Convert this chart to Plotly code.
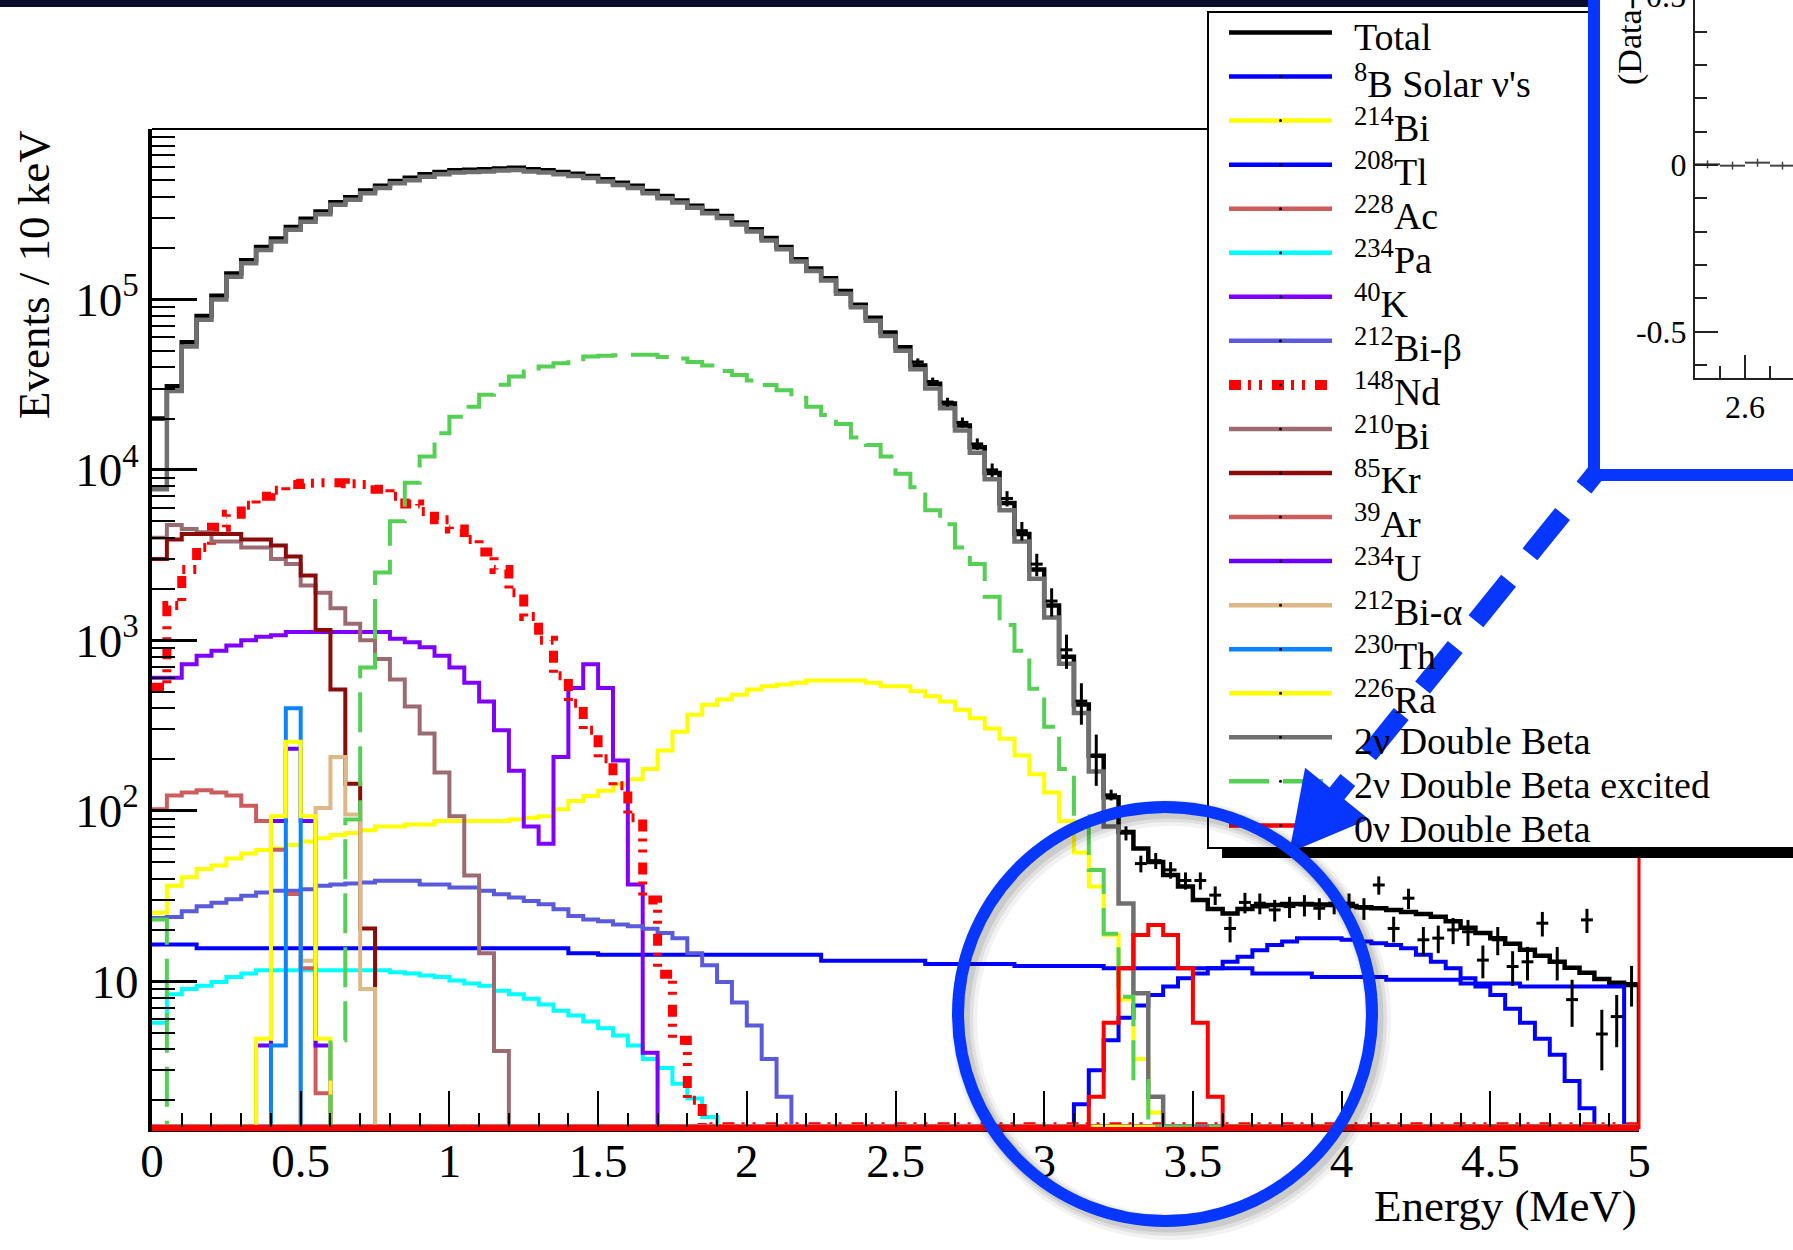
import math
import plotly.graph_objects as go

W, H = 1793, 1250
FONT = "Liberation Serif, Times New Roman, serif"
MARK_BLUE = "#0636ff"

BIN_WIDTH = 0.05      # MeV per histogram bin
N_BINS = 100          # 0 - 5 MeV
Y_FLOOR = 1.4         # empty bins are drawn on the frame bottom (ROOT log style)

# ---------------- histogram contents ----------------
total_start = 0
total_vals = [
    2.0e4, 3.1e4, 5.6e4, 8.0e4, 1.05e5, 1.42e5, 1.7e5, 2.03e5, 2.28e5, 2.66e5,
    2.97e5, 3.28e5, 3.72e5, 3.98e5, 4.35e5, 4.65e5, 4.95e5, 5.17e5, 5.42e5, 5.6e5,
    5.72e5, 5.77e5, 5.8e5, 5.87e5, 5.92e5, 5.8e5, 5.72e5, 5.6e5, 5.46e5, 5.3e5,
    5.07e5, 4.84e5, 4.64e5, 4.33e5, 4.05e5, 3.81e5, 3.55e5, 3.3e5, 3.09e5, 2.83e5,
    2.58e5, 2.29e5, 2.03e5, 1.72e5, 1.52e5, 1.33e5, 1.12e5, 9.3e4, 7.8e4, 6.4e4,
    5.25e4, 4.1e4, 3.2e4, 2.45e4, 1.82e4, 1.36e4, 9.6e3, 6.4e3, 4.2e3, 2.6e3,
    1.6e3, 800, 420, 210, 120, 75, 60, 50, 42, 36,
    30, 26.5, 25, 26.5, 27.5, 28, 28.4, 28.4, 28.2, 28,
    27.6, 27.2, 26.8, 26.2, 25.5, 24.8, 23.9, 22.5, 20.6, 19.2,
    17.9, 16.6, 15.3, 14.1, 13.0, 12.0, 11.2, 10.3, 9.8, 9.5,
]
b8_start = 0
b8_vals = [
    16.4, 16.4, 16.4, 15.6, 15.6, 15.6, 15.6, 15.6, 15.6, 15.6,
    15.6, 15.6, 15.6, 15.6, 15.6, 15.6, 15.6, 15.6, 15.6, 15.6,
    15.6, 15.6, 15.6, 15.6, 15.6, 15.6, 15.6, 15.6, 14.6, 14.6,
    14.3, 14.3, 14.3, 14.3, 14.3, 14.3, 14.3, 14.3, 14.3, 14.3,
    14.3, 14.3, 14.3, 14.3, 14.3, 13.2, 13.2, 13.2, 13.2, 13.2,
    13.2, 13.2, 12.6, 12.6, 12.6, 12.6, 12.6, 12.6, 12.3, 12.3,
    12.3, 12.3, 12.3, 12.3, 11.9, 11.9, 11.9, 11.9, 11.9, 11.9,
    11.9, 11.9, 11.9, 11.9, 11.1, 11.1, 11.1, 11.1, 10.6, 10.6,
    10.6, 10.6, 10.6, 10.2, 10.2, 10.2, 10.2, 10.2, 9.7, 9.7,
    9.7, 9.7, 9.3, 9.3, 9.3, 9.3, 9.3, 9.3, 9.3, 0,
]
bi214_start = 0
bi214_vals = [
    25.2, 36.3, 40.7, 45.6, 47.8, 52.5, 56.2, 58.8, 60, 63,
    66, 69, 72, 74, 77, 81, 81, 83, 83, 87,
    87, 87, 87, 87, 89, 91, 93, 102, 114, 122,
    131, 143, 153, 176, 226, 291, 366, 419, 449, 480,
    514, 538, 551, 564, 582, 582, 582, 582, 564, 538,
    538, 502, 470, 438, 391, 349, 304, 265, 211, 164,
    128, 87, 57, 36, 18.7, 7.8, 3.5, 1.7,
]
tl208_start = 62
tl208_vals = [
    1.9, 3.0, 4.5, 6.1, 7.2, 8.3, 9.3, 10.4, 11.1, 11.9,
    13.0, 13.9, 15.2, 16.3, 17.1, 17.9, 17.9, 17.9, 17.5, 17.1,
    16.7, 16.3, 15.6, 14.3, 13.0, 11.9, 10.4, 9.3, 8.3, 6.9,
    5.7, 4.6, 3.7, 2.6, 1.8,
]
ac228_start = 0
ac228_vals = []
pa234_start = 0
pa234_vals = [
    5.7, 8.4, 9.0, 9.4, 9.9, 10.6, 11.1, 11.6, 11.6, 11.6,
    11.6, 11.6, 11.6, 11.6, 11.6, 11.6, 11.3, 11.1, 10.8, 10.6,
    10.1, 9.7, 9.4, 8.8, 8.4, 7.9, 7.3, 6.7, 6.3, 5.8,
    5.3, 4.8, 4.2, 3.5, 3.1, 2.5, 2.05, 1.6,
]
k40_start = 0
k40_vals = [
    603, 603, 724, 813, 870, 933, 1000, 1050, 1070, 1120,
    1120, 1120, 1120, 1120, 1120, 1120, 1020, 975, 912, 813,
    692, 564, 438, 297, 172, 81, 64, 207, 526, 724,
    526, 197, 37, 3.8,
]
bi212b_start = 0
bi212b_vals = [
    23.5, 23.8, 25.7, 27.5, 28.9, 30.3, 31.7, 33.2, 33.9, 33.9,
    34.7, 36.3, 37, 37.5, 38, 38.9, 38.9, 38.9, 37, 37,
    35.5, 35.5, 34, 32.4, 31, 29.6, 28.3, 26.4, 24.1, 23,
    22.5, 21.5, 21, 20.3, 19.2, 17.9, 14.6, 12.4, 9.9, 7.5,
    5.5, 3.5, 2.1,
]
nd148_start = 0
nd148_vals = [
    530, 1600, 2600, 3500, 4600, 5500, 6200, 7000, 7600, 8200,
    8350, 8400, 8400, 8300, 8200, 7700, 7000, 6300, 5700, 5100,
    4500, 3900, 3300, 2600, 1900, 1380, 1000, 620, 428, 297,
    202, 140, 91, 30, 11, 4.5, 2.0,
]
bi210_start = 0
bi210_vals = [
    4000, 4750, 4500, 4300, 3800, 3800, 3500, 3500, 3000, 2800,
    2100, 1900, 1540, 1250, 1000, 776, 590, 409, 284, 168,
    93, 41.7, 14.6, 3.9,
]
kr85_start = 0
kr85_vals = [3000, 3900, 4200, 4200, 4200, 4200, 3900, 3900, 3600, 3100,
             2400, 1150, 514, 144, 20.4]
ar39_start = 0
ar39_vals = [102, 123, 128, 132, 128, 123, 107, 87, 59, 32.5, 11.9, 2.2]
u234_start = 7
u234_vals = [4.2, 87, 231, 87, 4.2]
bi212a_start = 10
bi212a_vals = [13.2, 104, 207, 95, 9.0]
th230_start = 8
th230_vals = [4.2, 400]
ra226_start = 7
ra226_vals = [4.6, 93, 254, 93, 4.6]
dbd2n_start = 0
dbd2n_vals = [
    7.7e3, 2.9e4, 5.3e4, 7.6e4, 1.0e5, 1.36e5, 1.63e5, 1.95e5, 2.19e5, 2.56e5,
    2.86e5, 3.16e5, 3.59e5, 3.84e5, 4.2e5, 4.5e5, 4.8e5, 5.0e5, 5.25e5, 5.43e5,
    5.55e5, 5.6e5, 5.63e5, 5.7e5, 5.75e5, 5.63e5, 5.55e5, 5.43e5, 5.3e5, 5.15e5,
    4.92e5, 4.7e5, 4.5e5, 4.2e5, 3.93e5, 3.7e5, 3.45e5, 3.2e5, 3.0e5, 2.75e5,
    2.5e5, 2.22e5, 1.97e5, 1.67e5, 1.47e5, 1.29e5, 1.08e5, 9.0e4, 7.5e4, 6.1e4,
    5.0e4, 3.9e4, 3.0e4, 2.3e4, 1.7e4, 1.26e4, 8.8e3, 5.8e3, 3.8e3, 2.3e3,
    1.36e3, 730, 375, 170, 81, 28.6, 8.5, 2.1,
]
dbd2n_exc_start = 0
dbd2n_exc_vals = [
    23, 0, 0, 0, 0, 0, 0, 0, 0, 0,
    0, 0, 4.5, 89, 692, 2500, 5000, 8400, 12000, 16400,
    20500, 23500, 27600, 31600, 35300, 37800, 40400, 42300, 44600, 46300,
    46800, 47000, 47300, 47300, 46000, 45000, 43000, 41000, 38000, 36000,
    33500, 31500, 29300, 26500, 23500, 21000, 18600, 15500, 14000, 12000,
    9500, 7900, 5800, 4800, 3500, 2800, 1800, 1230, 870, 520,
    311, 176, 93, 45, 19, 8.1, 2.6,
]
dbd0n_start = 63
dbd0n_vals = [2.1, 5.7, 11.9, 18.7, 21.4, 18.7, 11.9, 5.7, 2.1]

# data points (one per bin, from bin data_start)
data_start = 51
data_vals = [
    4.3e4, 3.3e4, 2.5e4, 1.9e4, 1.42e4, 1.0e4, 6.8e3, 4.4e3, 2.8e3, 1.7e3, 880, 440, 210,
    124, 74, 49, 51, 45, 39, 39, 32, 20.4, 29,
    28.7, 26.2, 27.4, 28, 26.8, 28.7, 28.7, 26.8, 36.7, 20.4,
    30.7, 17.5, 17.9, 20, 19.5, 13.3, 17.5, 12.2, 13, 21.9,
    13, 7.8, 22.9, 4.9, 6.2, 9.7,
]
data_err = [
    2100, 1800, 1500, 1300, 1100, 900, 700, 550, 420, 320, 200, 120, 70,
    9, 7, 5.5, 5.5, 5, 4.5, 4.5, 4, 3.5, 4,
    4, 3.8, 3.9, 4, 3.9, 4, 4, 3.9, 4.5, 3.5,
    4.2, 3.3, 3.3, 3.5, 3.4, 2.9, 3.3, 2.8, 2.9, 3.6,
    2.9, 2.4, 3.7, 1.9, 2.1, 2.6,
]
data_xerr = 0.02

# residual inset ((Data-Fit)/Fit)
resid_x = [2.525, 2.575, 2.625, 2.675, 2.725]
resid_y = [0.002, -0.002, 0.007, -0.002, 0.003]
resid_err = [0.012, 0.012, 0.012, 0.012, 0.012]
resid_xerr = 0.025

ND_DASH = "12px,7px,3px,8px,3px,10px"
EXC_DASH = "40px,14px"

# (legend label, start bin, values, colour, width, dash)
series = [
    ("Total", total_start, total_vals, "#000000", 4.5, "solid"),
    ("<sup>8</sup>B Solar ν's", b8_start, b8_vals, "#0000ff", 4, "solid"),
    ("<sup>214</sup>Bi", bi214_start, bi214_vals, "#ffff00", 4, "solid"),
    ("<sup>208</sup>Tl", tl208_start, tl208_vals, "#0000ff", 4, "solid"),
    ("<sup>228</sup>Ac", ac228_start, ac228_vals, "#cd5c5c", 4, "solid"),
    ("<sup>234</sup>Pa", pa234_start, pa234_vals, "#00ffff", 4, "solid"),
    ("<sup>40</sup>K", k40_start, k40_vals, "#7f00ff", 4, "solid"),
    ("<sup>212</sup>Bi-β", bi212b_start, bi212b_vals, "#5a5adc", 4, "solid"),
    ("<sup>148</sup>Nd", nd148_start, nd148_vals, "#ff0000", 9, ND_DASH),
    ("<sup>210</sup>Bi", bi210_start, bi210_vals, "#9c6b72", 4, "solid"),
    ("<sup>85</sup>Kr", kr85_start, kr85_vals, "#8b0a0a", 4, "solid"),
    ("<sup>39</sup>Ar", ar39_start, ar39_vals, "#cd5c5c", 4, "solid"),
    ("<sup>234</sup>U", u234_start, u234_vals, "#6a00ff", 4, "solid"),
    ("<sup>212</sup>Bi-α", bi212a_start, bi212a_vals, "#deb887", 4, "solid"),
    ("<sup>230</sup>Th", th230_start, th230_vals, "#0a84ff", 4, "solid"),
    ("<sup>226</sup>Ra", ra226_start, ra226_vals, "#ffff00", 4, "solid"),
    ("2ν Double Beta", dbd2n_start, dbd2n_vals, "#707070", 4.5, "solid"),
    ("2ν Double Beta excited", dbd2n_exc_start, dbd2n_exc_vals, "#55d055", 4, EXC_DASH),
    ("0ν Double Beta", dbd0n_start, dbd0n_vals, "#ff0000", 4, "solid"),
]


def hist_xy(start, vals):
    full = [0.0] * N_BINS
    for i, v in enumerate(vals):
        full[start + i] = v
    x = [round(BIN_WIDTH * i, 4) for i in range(N_BINS + 1)]
    y = [v if v > 0 else Y_FLOOR for v in full] + [Y_FLOOR]
    return x, y


fig = go.Figure()
for name, start, vals, color, width, dash in series:
    x, y = hist_xy(start, vals)
    fig.add_trace(go.Scatter(x=x, y=y, mode="lines", name=name,
                             line=dict(color=color, width=width, dash=dash, shape="hv"),
                             hoverinfo="skip", showlegend=False))

data_x = [round(BIN_WIDTH * (data_start + i + 0.5), 4) for i in range(len(data_vals))]
fig.add_trace(go.Scatter(
    x=data_x, y=data_vals, mode="markers", name="Data",
    marker=dict(size=3, color="black"),
    error_y=dict(type="data", array=data_err, color="black", thickness=3, width=0),
    error_x=dict(type="constant", value=data_xerr, color="black", thickness=3, width=0),
    hoverinfo="skip", showlegend=False))

# inset residuals
fig.add_trace(go.Scatter(
    x=resid_x, y=resid_y, mode="markers", xaxis="x2", yaxis="y2",
    marker=dict(size=2, color="#444444"),
    error_y=dict(type="data", array=resid_err, color="#444444", thickness=1.5, width=0),
    error_x=dict(type="constant", value=resid_xerr, color="#444444", thickness=2, width=0),
    hoverinfo="skip", showlegend=False))


def px(x):
    return x / W


def py(y):
    return 1 - y / H


PLOT_L, PLOT_R, PLOT_T, PLOT_B = 152, 1639, 129, 1129

x_major = [0, 0.5, 1, 1.5, 2, 2.5, 3, 3.5, 4, 4.5, 5]
x_major_text = ["0", "0.5", "1", "1.5", "2", "2.5", "3", "3.5", "4", "4.5", "5"]
x_minor = [round(i * 0.1, 1) for i in range(51) if i % 5]
y_major = [10, 100, 1000, 1e4, 1e5]
y_major_text = ["10", "10<sup>2</sup>", "10<sup>3</sup>", "10<sup>4</sup>", "10<sup>5</sup>"]
y_minor = [m * 10 ** e for e in range(0, 6) for m in range(2, 10)]

fig.update_layout(
    width=W, height=H, margin=dict(l=0, r=0, t=0, b=0, pad=0, autoexpand=False),
    paper_bgcolor="white", plot_bgcolor="rgba(0,0,0,0)",
    showlegend=False, hovermode=False,
    font=dict(family=FONT, color="black"),
    xaxis=dict(domain=[px(PLOT_L), px(PLOT_R)], range=[0, 5], anchor="y", automargin=False,
               showline=True, linewidth=3, linecolor="black", mirror=False,
               showgrid=False, zeroline=False,
               ticks="inside", ticklen=38, tickwidth=2, tickcolor="black",
               tickmode="array", tickvals=x_major, ticktext=x_major_text,
               ticklabelstandoff=-11,
               tickfont=dict(size=47, family=FONT, color="black"),
               minor=dict(ticks="inside", tickvals=x_minor, ticklen=16,
                          tickwidth=2, tickcolor="black")),
    yaxis=dict(type="log", domain=[py(PLOT_B), py(PLOT_T)], range=[0.133, 6.0], anchor="x",
               automargin=False,
               showline=True, linewidth=4, linecolor="black", mirror=False,
               showgrid=False, zeroline=False,
               ticks="inside", ticklen=45, tickwidth=2.5, tickcolor="black",
               tickmode="array", tickvals=y_major, ticktext=y_major_text,
               tickfont=dict(size=47, family=FONT, color="black"),
               minor=dict(ticks="inside", tickvals=y_minor, ticklen=23,
                          tickwidth=2, tickcolor="black")),
    xaxis2=dict(domain=[px(1695), 1.0], range=[2.5, 2.696], anchor="y2", automargin=False,
                showline=True, linewidth=2, linecolor="#222222",
                showgrid=False, zeroline=False,
                ticks="inside", ticklen=23, tickwidth=2, tickcolor="#222222",
                tickmode="array", tickvals=[2.6], ticktext=["2.6"],
                tickfont=dict(size=32, family=FONT, color="black"),
                minor=dict(ticks="inside", tickvals=[2.55, 2.65], ticklen=12,
                           tickwidth=2, tickcolor="#222222")),
    yaxis2=dict(domain=[py(378), 1.0], range=[-0.639, 0.495], anchor="x2", automargin=False,
                showline=True, linewidth=2, linecolor="#222222",
                showgrid=False, zeroline=False,
                ticks="inside", ticklen=23, tickwidth=2, tickcolor="#222222",
                tickmode="array", tickvals=[-0.5, 0], ticktext=["-0.5", "0"],
                tickfont=dict(size=32, family=FONT, color="black"),
                minor=dict(ticks="inside",
                           tickvals=[-0.6, -0.4, -0.3, -0.2, -0.1, 0.1, 0.2, 0.3, 0.4],
                           ticklen=12, tickwidth=2, tickcolor="#222222")),
)

shapes = []


def line(x0, y0, x1, y1, color, width, dash="solid"):
    shapes.append(dict(type="line", xref="paper", yref="paper",
                       x0=px(x0), y0=py(y0), x1=px(x1), y1=py(y1),
                       line=dict(color=color, width=width, dash=dash), layer="above"))


# dark band at the top of the slide
shapes.append(dict(type="rect", xref="paper", yref="paper", x0=px(0), x1=px(1594),
                   y0=py(0), y1=py(7), fillcolor="#0b0b2b", line=dict(width=0), layer="above"))
# frame top, red baseline & red right edge
line(PLOT_L, PLOT_T, 1209, PLOT_T, "black", 2)
line(PLOT_L, PLOT_B, PLOT_R, PLOT_B, "#ff0000", 4)
line(PLOT_R, 852, PLOT_R, PLOT_B, "#ff0000", 3)

# legend box + shadow
shapes.append(dict(type="rect", xref="paper", yref="paper", x0=px(1222), x1=px(1810),
                   y0=py(848), y1=py(858), fillcolor="black", line=dict(width=0), layer="above"))
leg_path = "M {},{} L {},{} L {},{} L {},{} L {},{} L {},{} Z".format(
    px(1208), py(12), px(1594), py(12), px(1594), py(475),
    px(1810), py(475), px(1810), py(848), px(1208), py(848))
shapes.append(dict(type="path", xref="paper", yref="paper", path=leg_path,
                   fillcolor="white", line=dict(color="black", width=2), layer="above"))

LEG_Y0, LEG_DY = 32.5, 44.05
annotations = []
for i, (name, start, vals, color, width, dash) in enumerate(series):
    yy = LEG_Y0 + LEG_DY * i
    w = 10 if dash == ND_DASH else max(width, 4.5)
    line(1229, yy, 1332, yy, color, w, dash)
    shapes.append(dict(type="circle", xref="paper", yref="paper",
                       x0=px(1279), x1=px(1282), y0=py(yy - 1.5), y1=py(yy + 1.5),
                       fillcolor="black", line=dict(width=0), layer="above"))
    annotations.append(dict(xref="paper", yref="paper", x=px(1352), y=py(yy + 4),
                            xanchor="left", yanchor="middle", showarrow=False,
                            text=name, font=dict(size=38, family=FONT, color="black")))

# inset border
shapes.append(dict(type="rect", xref="paper", yref="paper", x0=px(1594), x1=px(1812),
                   y0=py(-20), y1=py(475), line=dict(color=MARK_BLUE, width=12),
                   fillcolor="rgba(0,0,0,0)", layer="above"))

# dashed arrow from the inset to the circle
C = (1594.0, 475.0)
B = (1337.0, 793.5)
L = math.hypot(B[0] - C[0], B[1] - C[1])
ux, uy = (B[0] - C[0]) / L, (B[1] - C[1]) / L
for a, b in [(-2, 16), (50, 102), (136, 188), (221, 273), (307, 359), (392, 432)]:
    line(C[0] + a * ux, C[1] + a * uy, C[0] + b * ux, C[1] + b * uy, MARK_BLUE, 19)
tip = (C[0] + (L + 76) * ux, C[1] + (L + 76) * uy)
pxv, pyv = uy, -ux
c1 = (B[0] + 41 * pxv, B[1] + 41 * pyv)
c2 = (B[0] - 41 * pxv, B[1] - 41 * pyv)
shapes.append(dict(type="path", xref="paper", yref="paper",
                   path="M {},{} L {},{} L {},{} Z".format(px(tip[0]), py(tip[1]),
                                                           px(c1[0]), py(c1[1]),
                                                           px(c2[0]), py(c2[1])),
                   fillcolor=MARK_BLUE, line=dict(width=0), layer="above"))

# circle with a soft shadow
for off, wdt, alpha in [(6, 26, 0.05), (5, 20, 0.07), (4, 15, 0.09)]:
    shapes.append(dict(type="circle", xref="paper", yref="paper",
                       x0=px(958 + off), x1=px(1372 + off), y0=py(807 + off), y1=py(1221 + off),
                       line=dict(color="rgba(0,0,0,{})".format(alpha), width=wdt), layer="above"))
shapes.append(dict(type="circle", xref="paper", yref="paper",
                   x0=px(958), x1=px(1372), y0=py(807), y1=py(1221),
                   line=dict(color=MARK_BLUE, width=12), layer="above"))

# axis titles
annotations.append(dict(xref="paper", yref="paper", x=px(PLOT_R), y=py(1206),
                        xanchor="right", yanchor="middle", showarrow=False,
                        text="Energy (MeV)", font=dict(size=45, family=FONT, color="black")))
annotations.append(dict(xref="paper", yref="paper", x=px(34), y=py(275),
                        xanchor="center", yanchor="middle", showarrow=False, textangle=-90,
                        text="Events / 10 keV", font=dict(size=45, family=FONT, color="black")))
# inset texts cut by the page edge
annotations.append(dict(xref="paper", yref="paper", x=px(1688), y=py(-4),
                        xanchor="right", yanchor="middle", showarrow=False,
                        text="0.5", font=dict(size=32, family=FONT, color="black")))
annotations.append(dict(xref="paper", yref="paper", x=px(1630), y=py(87),
                        xanchor="center", yanchor="bottom", showarrow=False, textangle=-90,
                        text="(Data-Fit)/Fit", font=dict(size=34, family=FONT, color="black")))

fig.update_layout(shapes=shapes, annotations=annotations)
fig.write_html("out.html")
